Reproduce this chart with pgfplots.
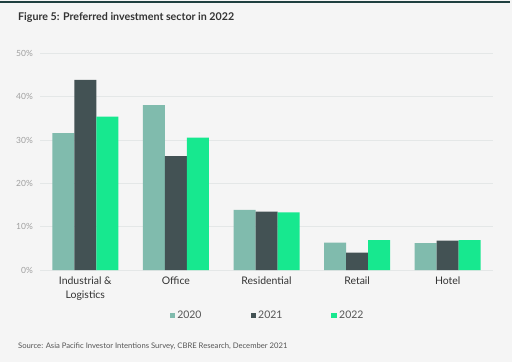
\documentclass[border=0pt]{standalone}
\usepackage{pgfplots}
\pgfplotsset{compat=1.18}
\usepackage{fontspec}
\setmainfont{Lato}
\definecolor{bg}{HTML}{F5F5F5}
\definecolor{topline}{HTML}{1F3F3F}
\definecolor{cA}{HTML}{80BBAD}
\definecolor{cB}{HTML}{435254}
\definecolor{cC}{HTML}{17E88F}
\definecolor{gridc}{HTML}{E4E7E7}
\definecolor{tickc}{HTML}{A0A0A0}
\definecolor{labc}{HTML}{333333}
\definecolor{legc}{HTML}{555555}
\begin{document}
\begin{tikzpicture}[x=1bp,y=1bp]
\fill[bg] (0,0) rectangle (512,362);
\fill[topline] (0,359) rectangle (510,360.5);
\node[anchor=west, font=\bfseries\fontsize{10.7}{12}\selectfont, text=labc, inner sep=0] at (18,344) {Figure 5: Preferred investment sector in 2022};
\node[anchor=west, font=\fontsize{7.7}{9}\selectfont, text=legc, inner sep=0] at (18,16) {Source: Asia Pacific Investor Intentions Survey, CBRE Research, December 2021};
\begin{axis}[
  at={(40bp,92bp)}, anchor=south west, scale only axis,
  width=453bp, height=216.5bp,
  ybar=0pt, bar width=22bp,
  xmin=-0.5, xmax=4.5, ymin=0, ymax=50,
  ytick={0,10,20,30,40,50},
  yticklabel={\pgfmathprintnumber{\tick}\%},
  /pgf/number format/assume math mode=true,
  xtick=data,
  xticklabels={{Industrial \&\\Logistics},Office,Residential,Retail,Hotel},
  xticklabel style={font=\fontsize{10.5}{14}\selectfont, text=labc, align=center, inner sep=0pt, yshift=-7bp},
  yticklabel style={font=\fontsize{8.5}{9}\selectfont, text=tickc, inner sep=0pt, xshift=-7bp},
  major tick length=0pt,
  axis line style={draw=none},
  ymajorgrids, grid style={gridc, line width=0.7pt},
  legend columns=3,
  legend style={at={(0.5,-0.211)}, anchor=center, draw=none, fill=none,
    font=\fontsize{10.5}{11}\selectfont, text=legc, inner sep=0pt,
    nodes={inner sep=0pt},
    /tikz/every odd column/.append style={column sep=2bp},
    /tikz/every even column/.append style={column sep=49bp}},
  legend image code/.code={\fill[#1] (0bp,-2.8bp) rectangle (5.7bp,2.8bp);},
]
\addplot[fill=cA, draw=none] coordinates {(0,31.6) (1,38.1) (2,13.9) (3,6.3) (4,6.2)};
\addplot[fill=cB, draw=none] coordinates {(0,43.9) (1,26.3) (2,13.5) (3,4.0) (4,6.8)};
\addplot[fill=cC, draw=none] coordinates {(0,35.4) (1,30.6) (2,13.3) (3,6.9) (4,6.9)};
\legend{2020,2021,2022}
\end{axis}
\end{tikzpicture}
\end{document}
